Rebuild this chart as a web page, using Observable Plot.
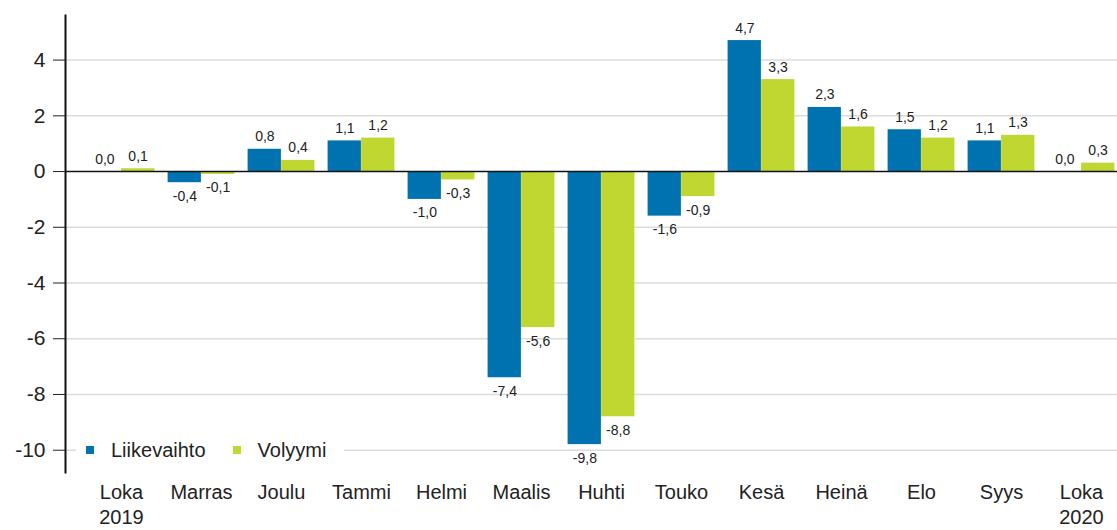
<!DOCTYPE html>
<html>
<head>
<meta charset="utf-8">
<script src="https://cdn.jsdelivr.net/npm/d3@7"></script>
<script src="https://cdn.jsdelivr.net/npm/@observablehq/plot@0.6"></script>
<style>
  html, body { margin: 0; padding: 0; background: #fff; }
  #wrap { position: relative; width: 1117px; height: 530px; font-family: "Liberation Sans", Arial, sans-serif; }
  #legend { position: absolute; left: 76px; top: 437px; width: 268px; height: 26px; background: #fff;
            display: flex; align-items: center; font-size: 20px; color: #222; }
  .item { display: flex; align-items: center; margin-left: 10px; margin-right: 17px; }
  .sw { width: 8px; height: 8px; margin-right: 17px; }
</style>
</head>
<body>
<div id="wrap"></div>
<script>
const months = ["Loka\n2019","Marras","Joulu","Tammi","Helmi","Maalis","Huhti","Touko","Kesä","Heinä","Elo","Syys","Loka\n2020"];
const liikevaihto = [0.0, -0.4, 0.8, 1.1, -1.0, -7.4, -9.8, -1.6, 4.7, 2.3, 1.5, 1.1, 0.0];
const volyymi     = [0.1, -0.1, 0.4, 1.2, -0.3, -5.6, -8.8, -0.9, 3.3, 1.6, 1.2, 1.3, 0.3];
const seriesNames = ["Liikevaihto", "Volyymi"];
const seriesColors = ["#0072b0", "#c0d631"];
const yTicks = [4, 2, 0, -2, -4, -6, -8, -10];

const blueRows = months.map((m, i) => ({month: m, value: liikevaihto[i]}));
const greenRows = months.map((m, i) => ({month: m, value: volyymi[i]}));
const fmt = v => v.toFixed(1).replace(".", ",");

const labelFont = 14;
const textMarks = (rows, dx) => [
  Plot.text(rows, {filter: d => d.value >= 0, x: "month", y: "value", text: d => fmt(d.value), dx, dy: -12.5, fontSize: labelFont, fill: "#222"}),
  Plot.text(rows, {filter: d => d.value < 0, x: "month", y: "value", text: d => fmt(d.value), dx, dy: 13.5, fontSize: labelFont, fill: "#222"})
];

const chart = Plot.plot({
  width: 1117,
  height: 530,
  marginLeft: 65,
  marginRight: 0,
  marginTop: 15,
  marginBottom: 58,
  style: {fontFamily: "'Liberation Sans', Arial, sans-serif", color: "#222", background: "#fff", overflow: "visible"},
  x: {domain: months, range: [80, 1122], padding: 0, label: null},
  y: {domain: [-10.8, 5.6], label: null},
  marks: [
    Plot.gridY(yTicks.filter(d => d !== 0), {stroke: "#dcdcdc", strokeOpacity: 1, strokeWidth: 1.5}),
    Plot.barY(blueRows, {x: "month", y: "value", fill: seriesColors[0], insetLeft: 6.6, insetRight: 40.1}),
    Plot.barY(greenRows, {x: "month", y: "value", fill: seriesColors[1], insetLeft: 40.1, insetRight: 6.6}),
    Plot.ruleY([0], {stroke: "#111", strokeWidth: 1.5}),
    ...textMarks(blueRows, -16.6),
    ...textMarks(greenRows, 16.6),
    Plot.axisY({ticks: yTicks, tickSize: 12, tickPadding: 8, fontSize: 21, tickFormat: d => String(d), stroke: "#222"}),
    Plot.axisX({tickSize: 0, tickPadding: 9, fontSize: 20, lineHeight: 1.25}),
    Plot.frame({anchor: "left", stroke: "#111", strokeWidth: 2})
  ]
});

const wrap = document.getElementById("wrap");
wrap.appendChild(chart);

const legend = document.createElement("div");
legend.id = "legend";
seriesNames.forEach((name, i) => {
  const item = document.createElement("div");
  item.className = "item";
  const sw = document.createElement("div");
  sw.className = "sw";
  sw.style.background = seriesColors[i];
  const label = document.createElement("span");
  label.textContent = name;
  item.appendChild(sw);
  item.appendChild(label);
  legend.appendChild(item);
});
wrap.appendChild(legend);
</script>
</body>
</html>
